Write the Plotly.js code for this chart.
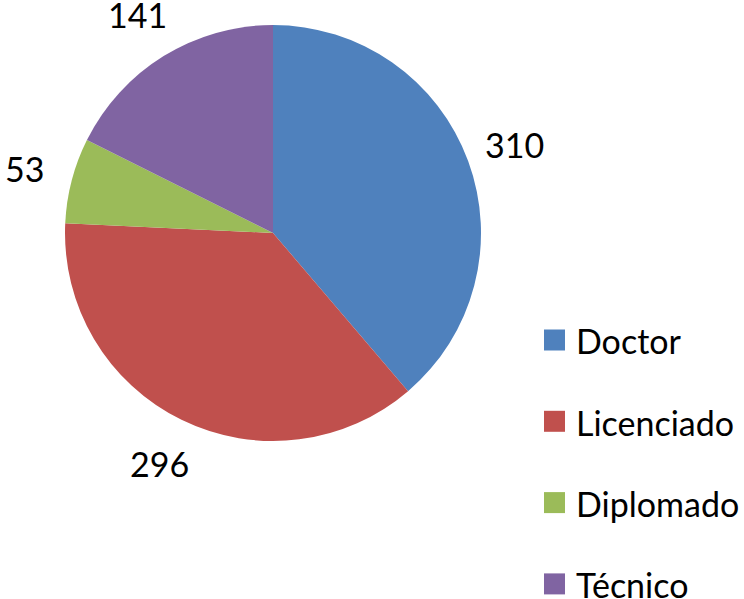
<!DOCTYPE html>
<html>
<head>
<meta charset="utf-8">
<script src="https://cdn.plot.ly/plotly-3.0.1.min.js"></script>
<style>html,body{margin:0;padding:0;background:#fff;}#chart{width:744px;height:599px;}</style>
</head>
<body>
<div id="chart"></div>
<script>
// Data
const categories = ['Doctor', 'Licenciado', 'Diplomado', 'Técnico'];
const counts = [310, 296, 53, 141];
const sliceColors = ['#4F81BD', '#C0504D', '#9BBB59', '#8064A2'];

// Layout geometry (pixels)
const W = 744, H = 599;
const cx = 273, cy = 233, R = 208;
const labelR = 1.235 * R;
const FONT = 'Lato, "Liberation Sans", sans-serif';
const fs = 34;

const px = x => x / W;
const py = y => 1 - y / H;

const total = counts.reduce((a, b) => a + b, 0);
const annotations = [];
const shapes = [];
let cum = 0;
counts.forEach((v, i) => {
  const mid = (cum + v / 2) / total * 2 * Math.PI; // clockwise from 12 o'clock
  cum += v;
  const lx = cx + labelR * Math.sin(mid);
  const ly = cy - labelR * Math.cos(mid);
  annotations.push({
    xref: 'paper', yref: 'paper', x: px(lx), y: py(ly),
    xanchor: 'center', yanchor: 'middle', showarrow: false,
    text: String(v), font: {family: FONT, size: fs, color: '#000'}
  });
});

// Custom legend
const legX0 = 544, legSize = 21, legY0 = 340, legStep = 81.3;
categories.forEach((c, i) => {
  const yc = legY0 + i * legStep;
  shapes.push({
    type: 'rect', xref: 'paper', yref: 'paper',
    x0: px(legX0), x1: px(legX0 + legSize),
    y0: py(yc + legSize / 2), y1: py(yc - legSize / 2),
    fillcolor: sliceColors[i], line: {width: 0}
  });
  annotations.push({
    xref: 'paper', yref: 'paper', x: px(legX0 + legSize + 9), y: py(yc + 1),
    xanchor: 'left', yanchor: 'middle', showarrow: false,
    text: c, font: {family: FONT, size: fs, color: '#000'}
  });
});

const trace = {
  type: 'pie',
  labels: categories,
  values: counts,
  marker: {colors: sliceColors, line: {width: 0}},
  sort: false,
  direction: 'clockwise',
  rotation: 0,
  textinfo: 'none',
  hoverinfo: 'label+value',
  showlegend: false,
  domain: {x: [px(cx - R), px(cx + R)], y: [py(cy + R), py(cy - R)]}
};

const layout = {
  width: W, height: H,
  margin: {l: 0, r: 0, t: 0, b: 0},
  paper_bgcolor: '#fff',
  showlegend: false,
  annotations: annotations,
  shapes: shapes
};

Plotly.newPlot('chart', [trace], layout, {displayModeBar: false, staticPlot: true});
</script>
</body>
</html>
